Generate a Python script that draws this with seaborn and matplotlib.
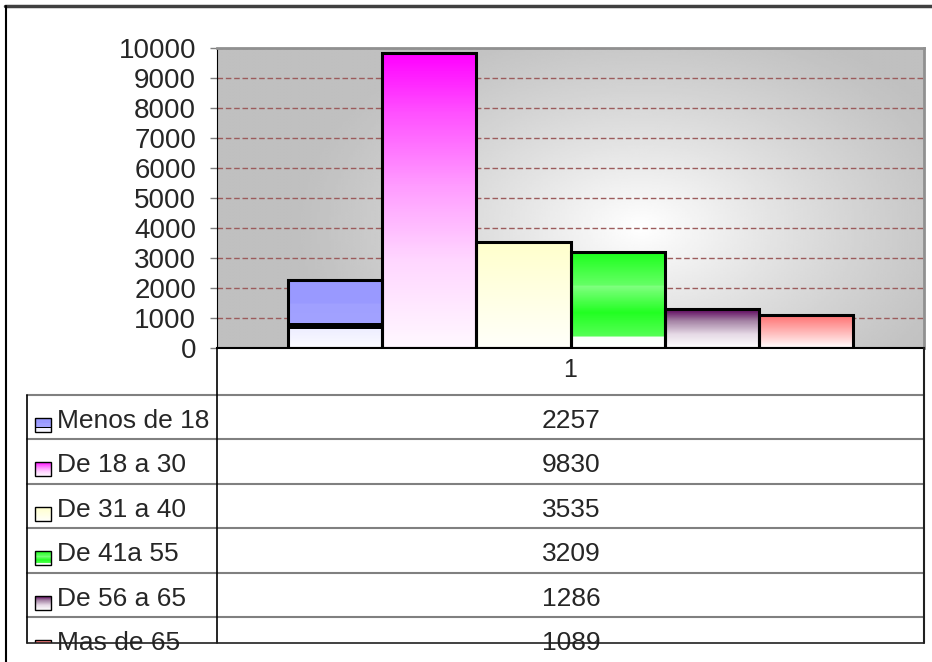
import numpy as np
import pandas as pd
import matplotlib
matplotlib.use('Agg')
import matplotlib.pyplot as plt
import seaborn as sns
from matplotlib.colors import LinearSegmentedColormap
from matplotlib.patches import Rectangle

# datos
rangos = ['Menos de 18', 'De 18 a 30', 'De 31 a 40', 'De 41a 55', 'De 56 a 65', 'Mas de 65']
valores = [2257, 9830, 3535, 3209, 1286, 1089]
serie = ['1'] * len(rangos)
y_ticks = list(range(0, 10001, 1000))

# degradados de cada barra (abajo -> arriba), estilo Excel
gradientes = [
    [(0.0, '#fbfbff'), (0.28, '#eeeeff'), (0.281, '#000000'), (0.37, '#000000'),
     (0.371, '#a2a2ff'), (0.65, '#a0a0ff'), (0.66, '#9999ff'), (1.0, '#9999ff')],
    [(0.0, '#fff8ff'), (0.3, '#ffd6ff'), (0.55, '#ff9cff'), (0.8, '#ff50ff'), (1.0, '#ff00ff')],
    [(0.0, '#fffffa'), (1.0, '#ffffcc')],
    [(0.0, '#ffffff'), (0.115, '#fafffa'), (0.12, '#55ff55'), (0.365, '#22ff22'),
     (0.64, '#80ff80'), (0.645, '#66ff66'), (1.0, '#1aff1a')],
    [(0.0, '#ffffff'), (0.35, '#e6dae6'), (0.7, '#a482a4'), (1.0, '#5c005c')],
    [(0.0, '#ffffff'), (0.3, '#ffd2d2'), (1.0, '#ff7070')],
]

sns.set_style('white')
plt.rcParams['font.family'] = ['Liberation Sans', 'DejaVu Sans']

W, H = 932, 662
fig = plt.figure(figsize=(W / 100, H / 100), dpi=100)
ax = fig.add_axes([217 / W, 1 - 348 / H, (924 - 217) / W, 300 / H])

df = pd.DataFrame({'serie': serie, 'rango': rangos, 'valor': valores})
colores = [g[-1][1] for g in gradientes]
sns.barplot(data=df, x='serie', y='valor', hue='rango', hue_order=rangos,
            palette=colores, saturation=1, width=0.8, edgecolor='black',
            linewidth=2.2, legend=False, ax=ax, zorder=2)

# fondo gris con centro claro
yy, xx = np.mgrid[0:1:200j, 0:1:300j]
d = np.sqrt(((xx - 0.6) / 0.5) ** 2 + ((yy - 0.4) / 0.75) ** 2)
fondo = 0.75 + 0.25 * (1 - np.clip(d, 0, 1)) ** 1.2
ax.imshow(fondo, extent=[-0.5, 0.5, 0, 10000], origin='lower', cmap='gray',
          vmin=0, vmax=1, aspect='auto', zorder=0, interpolation='bilinear')

grad = np.linspace(0, 1, 400).reshape(-1, 1)
for cont, stops in zip(ax.containers, gradientes):
    bar = cont[0]
    cmap = LinearSegmentedColormap.from_list('g', stops)
    x0, y0 = bar.get_x(), bar.get_y()
    ax.imshow(grad, extent=[x0, x0 + bar.get_width(), y0, y0 + bar.get_height()],
              origin='lower', cmap=cmap, vmin=0, vmax=1, aspect='auto',
              zorder=1.5, interpolation='nearest')
    bar.set_facecolor('none')

ax.set_xlim(-0.5, 0.5)
ax.set_ylim(0, 10000)
ax.set_yticks(y_ticks)
ax.set_axisbelow(True)
ax.yaxis.grid(True, color='#9c5c5c', linestyle=(0, (4, 2)), linewidth=1)
ax.set_xlabel('')
ax.set_ylabel('')
ax.tick_params(axis='y', left=True, length=5, width=1, color='#808080', labelsize=20, pad=10)
ax.tick_params(axis='x', length=0, labelsize=18, pad=7)
ax.spines['left'].set_color('black')
ax.spines['bottom'].set_color('black')
ax.spines['bottom'].set_linewidth(1.5)
for s in ['top', 'right']:
    ax.spines[s].set_color('#909090')
    ax.spines[s].set_linewidth(2)

# tabla de datos debajo
tab = fig.add_axes([0, 0, 1, 1], zorder=3)
tab.patch.set_visible(False)
tab.axis('off')

fila_h = 44.4
top_tabla = 395
fin_tabla = 643
corte = Rectangle((0, 0), W, fin_tabla, transform=tab.transData)

for i in range(len(rangos)):
    y_l = top_tabla + i * fila_h
    tab.plot([27, 924], [y_l, y_l], color='#808080', lw=1.5, zorder=2)
tab.plot([27, 924], [fin_tabla, fin_tabla], color='#202020', lw=1.2, zorder=3)
tab.plot([27, 27], [top_tabla, fin_tabla], color='black', lw=1.2)
tab.plot([217, 217], [348, fin_tabla], color='black', lw=1.2)
tab.plot([924, 924], [348, fin_tabla], color='#202020', lw=1.5)

for i, (r, v, stops) in enumerate(zip(rangos, valores, gradientes)):
    base = 428 + i * fila_h
    tab.text(57, base, r, fontsize=19, ha='left', va='baseline', zorder=1)
    tab.text(571, base, str(v), fontsize=19, ha='center', va='baseline', zorder=1)
    cmap = LinearSegmentedColormap.from_list('k', stops)
    im = tab.imshow(grad, extent=[35, 51, base + 4, base - 10], origin='lower', cmap=cmap,
                    vmin=0, vmax=1, aspect='auto', interpolation='nearest', zorder=1)
    im.set_clip_path(corte)
    rect = Rectangle((35, base - 10), 16, 14, fill=False, edgecolor='black', lw=1, zorder=1)
    tab.add_patch(rect)
    rect.set_clip_path(corte)

# borde exterior del grafico
tab.plot([5, W], [6, 6], color='#404040', lw=2.5)
tab.plot([5.5, 5.5], [6, H], color='black', lw=1.5)

tab.set_xlim(0, W)
tab.set_ylim(H, 0)

fig.savefig('out.png', dpi=100)
